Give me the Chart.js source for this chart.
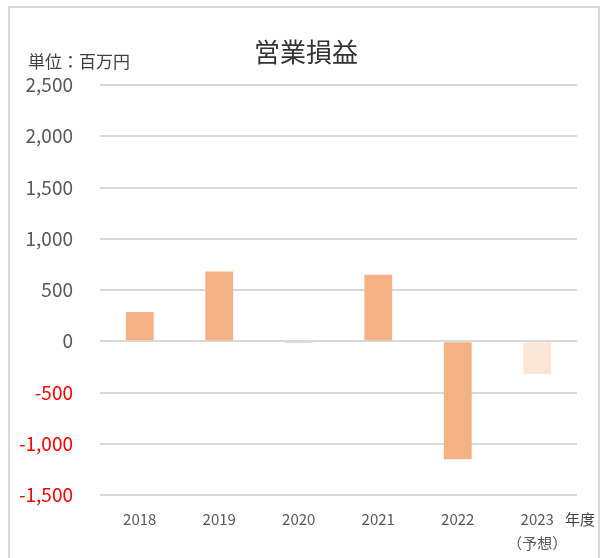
<!DOCTYPE html>
<html>
<head>
<meta charset="utf-8">
<script src="https://cdn.jsdelivr.net/npm/chart.js@4.4.1/dist/chart.umd.min.js"></script>
<style>
  html, body { margin: 0; padding: 0; background: #fff; }
  #wrap { position: relative; width: 604px; height: 558px; overflow: hidden; }
  #frame {
    position: absolute; left: 8px; top: 6px; width: 592px; height: 600px;
    border: 2px solid #d9d9d9; box-sizing: border-box;
  }
  canvas { position: absolute; left: 0; top: 0; }
</style>
</head>
<body>
<div id="wrap">
  <div id="frame"></div>
  <canvas id="chart" width="604" height="558"></canvas>
</div>
<script>
// 営業損益 (単位：百万円)
const TITLE = '営業損益';
const UNIT = '単位：百万円';
const X_UNIT = '年度';
const years = ['2018', '2019', '2020', '2021', '2022', ['2023', '（予想）']];
const operatingProfit = [285, 680, -15, 650, -1150, -320];
const barColors = ['#f4b183', '#f4b183', '#f4b183', '#f4b183', '#f4b183', '#fbe5d6'];

const Y_MIN = -1500;
const Y_MAX = 2500;
const Y_STEP = 500;

const FONT = '"Noto Sans CJK JP", "Noto Sans", sans-serif';
const TEXT_GREY = '#595959';

// title sits a little right of the canvas centre, so it is drawn here
// together with the unit label and the 年度 caption
const captions = {
  id: 'captions',
  afterDraw(chart) {
    const { ctx, chartArea } = chart;
    ctx.save();
    ctx.textBaseline = 'middle';
    ctx.fillStyle = '#333333';
    ctx.font = `26px ${FONT}`;
    ctx.textAlign = 'center';
    ctx.fillText(TITLE, 306, 52);
    ctx.fillStyle = '#404040';
    ctx.font = `17px ${FONT}`;
    ctx.textAlign = 'left';
    ctx.fillText(UNIT, 28, 62);
    ctx.font = `15px ${FONT}`;
    ctx.fillText(X_UNIT, chartArea.right - 12, chartArea.bottom + 24);
    ctx.restore();
  },
};

new Chart(document.getElementById('chart'), {
  type: 'bar',
  data: {
    labels: years,
    datasets: [{
      label: TITLE,
      data: operatingProfit,
      backgroundColor: barColors,
      borderWidth: 0,
      barPercentage: 0.7,
      categoryPercentage: 0.5,
    }],
  },
  options: {
    responsive: false,
    animation: false,
    layout: { padding: { left: 0, right: 27, top: 85, bottom: 0 } },
    scales: {
      x: {
        grid: { display: false, drawTicks: false },
        border: { display: false },
        ticks: {
          color: TEXT_GREY,
          font: { family: FONT, size: 15, lineHeight: 1.55 },
          padding: 13,
          maxRotation: 0,
        },
        afterFit: (scale) => { scale.height = 63; },
      },
      y: {
        min: Y_MIN,
        max: Y_MAX,
        grid: { color: '#d9d9d9', lineWidth: 2, drawTicks: false },
        border: { display: false },
        ticks: {
          stepSize: Y_STEP,
          padding: 27,
          font: { family: FONT, size: 19 },
          color: (c) => (c.tick.value < 0 ? '#ff0000' : TEXT_GREY),
          callback: (v) => v.toLocaleString('en-US'),
        },
        afterFit: (scale) => { scale.width = 100; },
      },
    },
    plugins: {
      legend: { display: false },
      tooltip: { enabled: false },
      title: { display: false },
    },
  },
  plugins: [captions],
});
</script>
</body>
</html>
